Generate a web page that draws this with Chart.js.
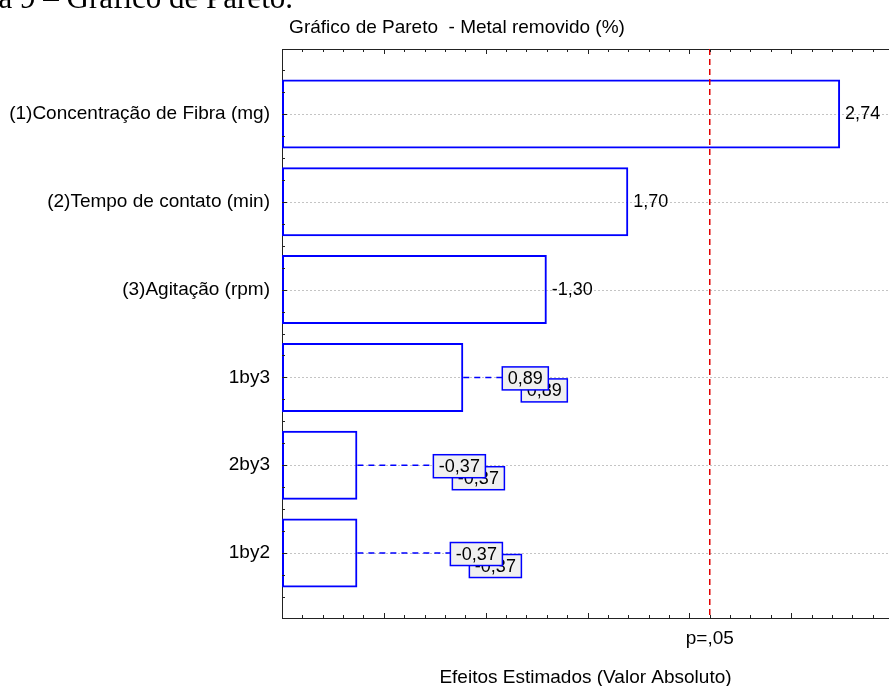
<!DOCTYPE html>
<html lang="pt">
<head>
<meta charset="utf-8">
<title>Gráfico de Pareto</title>
<script src="https://cdn.jsdelivr.net/npm/chart.js@4.4.1/dist/chart.umd.min.js"></script>
<style>
    html, body { margin: 0; padding: 0; background: #fff; overflow: hidden; }
    #wrap { position: relative; width: 889px; height: 686px; }
    #pareto { position: absolute; left: 0; top: 0; }
    /* figure caption sits above the plot, mostly cut off by the page top */
    #caption {
        position: absolute; top: -18px; right: 596px;
        white-space: nowrap; color: #000;
        font-family: 'Liberation Serif', 'Times New Roman', serif;
        font-size: 31px; line-height: 1;
    }
</style>
</head>
<body>
<div id="wrap">
    <canvas id="pareto" width="889" height="686"></canvas>
    <div id="caption">Figura 9 – Gráfico de Pareto.</div>
</div>
<script>
// Effects (signed) and their names, in Pareto order
const categories = [
    '(1)Concentração de Fibra (mg)',
    '(2)Tempo de contato (min)',
    '(3)Agitação (rpm)',
    '1by3',
    '2by3',
    '1by2'
];
const effects = [2.74, 1.70, -1.30, 0.89, -0.37, -0.37];
const pLimit = 2.10;          // critical t at p = .05
const pLabel = 'p=,05';
const chartTitle = 'Gráfico de Pareto  - Metal removido (%)';
const xTitle = 'Efeitos Estimados (Valor Absoluto)';

// axis extent and tick spacing
const xMax = 2.98;
const xMajor = 0.5, xMinor = 0.1;
const yMin = 0.26, yMax = 6.74, yMinor = 0.25;

// small effects get a boxed label pulled off to the right (px gap from bar end)
const boxGap = [null, null, null, 39, 76, 93];

const BLUE = '#0000ff';
const AXIS = '#222';
const FONT = "'Liberation Sans', Arial, sans-serif";

Chart.defaults.font.family = FONT;
Chart.defaults.font.size = 19;
Chart.defaults.color = '#000';

const fmt = v => v.toFixed(2).replace('.', ',');

// dotted guide lines under the bars
const guides = {
    id: 'guides',
    beforeDatasetsDraw(chart) {
        const { ctx, chartArea: a, scales: { y } } = chart;
        ctx.save();
        ctx.strokeStyle = '#c4c4c4';
        ctx.lineWidth = 1;
        ctx.setLineDash([2, 2]);
        categories.forEach((c, i) => {
            const py = Math.round(y.getPixelForValue(i + 1)) + 0.5;
            ctx.beginPath();
            ctx.moveTo(a.left, py);
            ctx.lineTo(a.right, py);
            ctx.stroke();
        });
        ctx.restore();
    }
};

// critical line, tick marks, value labels and titles
const overlay = {
    id: 'overlay',
    afterDatasetsDraw(chart) {
        const { ctx, chartArea: a, scales: { x, y } } = chart;
        const meta = chart.getDatasetMeta(0);
        ctx.save();

        // p = .05 line
        const px = x.getPixelForValue(pLimit);
        ctx.strokeStyle = '#e00000';
        ctx.lineWidth = 1.5;
        ctx.setLineDash([6, 4]);
        ctx.beginPath();
        ctx.moveTo(px, a.top);
        ctx.lineTo(px, a.bottom);
        ctx.stroke();
        ctx.setLineDash([]);

        // ticks point inwards on top, bottom and left axes
        ctx.strokeStyle = AXIS;
        ctx.lineWidth = 1;
        const nx = Math.floor(xMax / xMinor + 1e-6);
        for (let k = 1; k <= nx; k++) {
            const len = k % Math.round(xMajor / xMinor) === 0 ? 5 : 3;
            const tx = Math.round(x.getPixelForValue(k * xMinor)) + 0.5;
            ctx.beginPath();
            ctx.moveTo(tx, a.top);
            ctx.lineTo(tx, a.top + len);
            ctx.moveTo(tx, a.bottom);
            ctx.lineTo(tx, a.bottom - len);
            ctx.stroke();
        }
        for (let k = Math.ceil(yMin / yMinor); k * yMinor <= yMax; k++) {
            const v = k * yMinor;
            const len = Number.isInteger(v) ? 5 : 3;
            const ty = Math.round(y.getPixelForValue(v)) + 0.5;
            ctx.beginPath();
            ctx.moveTo(a.left, ty);
            ctx.lineTo(a.left + len, ty);
            ctx.stroke();
        }

        // value labels
        ctx.font = `18px ${FONT}`;
        ctx.textBaseline = 'middle';
        effects.forEach((v, i) => {
            const bar = meta.data[i];
            const text = fmt(v);
            if (boxGap[i] == null) {
                ctx.textAlign = 'left';
                ctx.fillStyle = '#000';
                ctx.fillText(text, bar.x + 5, bar.y);
                return;
            }
            const w = ctx.measureText(text).width + 11;
            const h = 23;
            const bx = bar.x + boxGap[i];
            const by = bar.y + 1;
            // dashed leader from bar end to the label
            ctx.strokeStyle = BLUE;
            ctx.lineWidth = 1.5;
            ctx.setLineDash([6, 5]);
            ctx.beginPath();
            ctx.moveTo(bar.x, bar.y);
            ctx.lineTo(bx, bar.y);
            ctx.stroke();
            ctx.setLineDash([]);
            // two stacked boxes, the back one offset down-right
            [[19, 12], [0, 0]].forEach(([dx, dy]) => {
                const l = bx + dx, t = by + dy - h / 2;
                ctx.fillStyle = '#f0f0f0';
                ctx.fillRect(l, t, w, h);
                ctx.strokeStyle = BLUE;
                ctx.lineWidth = 1.5;
                ctx.strokeRect(l, t, w, h);
                ctx.fillStyle = '#000';
                ctx.textAlign = 'center';
                ctx.fillText(text, l + w / 2, t + h / 2 + 1);
            });
        });

        // titles
        ctx.font = `19px ${FONT}`;
        ctx.fillStyle = '#000';
        ctx.textAlign = 'center';
        ctx.textBaseline = 'alphabetic';
        ctx.fillText(chartTitle, 457, 33);
        ctx.fillText(pLabel, px, a.bottom + 26);
        ctx.fillText(xTitle, (a.left + a.right) / 2, a.bottom + 65);
        ctx.restore();
    }
};

const flatAxis = s => { s.height = 0; };

new Chart(document.getElementById('pareto'), {
    type: 'bar',
    data: {
        datasets: [{
            data: effects.map((v, i) => ({ x: Math.abs(v), y: i + 1 })),
            backgroundColor: 'rgba(0,0,0,0)',
            borderColor: BLUE,
            borderWidth: 2,
            borderSkipped: false,
            barPercentage: 0.786,
            categoryPercentage: 1
        }]
    },
    options: {
        indexAxis: 'y',
        responsive: false,
        animation: false,
        events: [],
        layout: { padding: { top: 49, bottom: 68, left: 0, right: 0 } },
        plugins: {
            legend: { display: false },
            tooltip: { enabled: false },
            title: { display: false }
        },
        scales: {
            x: {
                type: 'linear', position: 'bottom', min: 0, max: xMax,
                ticks: { display: false },
                grid: { display: false },
                border: { display: true, color: AXIS, width: 1 },
                afterFit: flatAxis
            },
            xTop: {
                type: 'linear', position: 'top', min: 0, max: xMax,
                ticks: { display: false },
                grid: { display: false },
                border: { display: true, color: AXIS, width: 1 },
                afterFit: flatAxis
            },
            y: {
                // bar charts default the index axis to offset: true, which pads a linear scale
                type: 'linear', reverse: true, min: yMin, max: yMax, offset: false,
                afterBuildTicks: s => {
                    s.ticks = categories.map((c, i) => ({ value: i + 1 }));
                },
                ticks: { callback: v => categories[v - 1], padding: 4, autoSkip: false },
                grid: { display: false, offset: false },
                border: { display: true, color: AXIS, width: 1 },
                afterFit: s => { s.width = 282; s.paddingTop = 0; s.paddingBottom = 0; }
            }
        }
    },
    plugins: [guides, overlay]
});
</script>
</body>
</html>
